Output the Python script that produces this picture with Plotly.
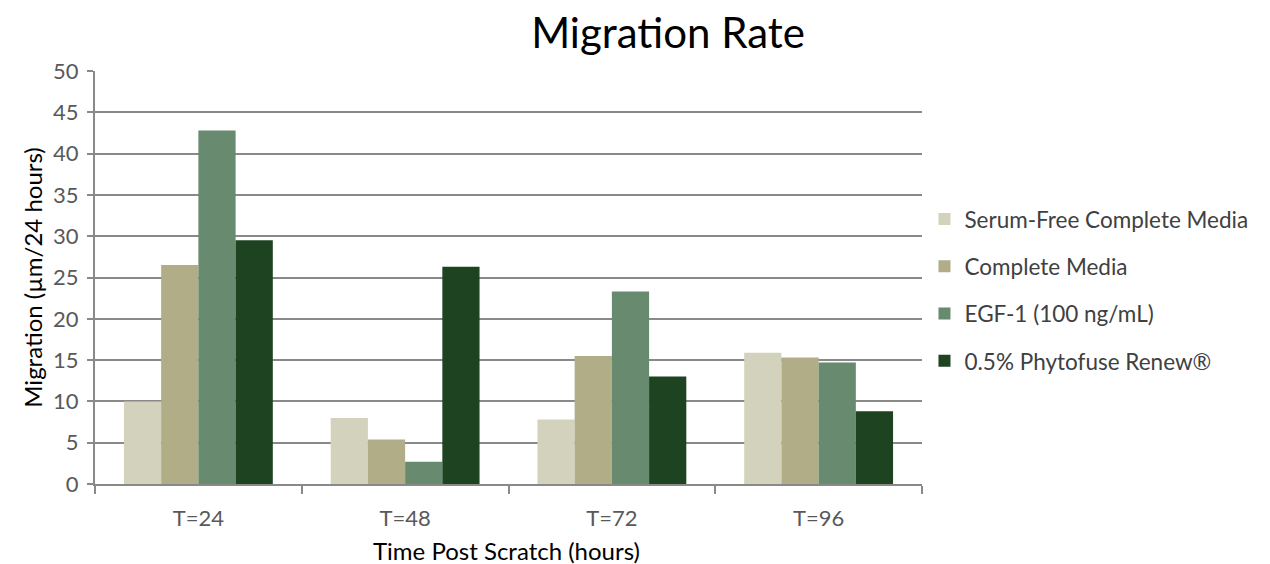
import plotly.graph_objects as go

categories = ["T=24", "T=48", "T=72", "T=96"]
series_names = ["Serum-Free Complete Media", "Complete Media", "EGF-1 (100 ng/mL)", "0.5% Phytofuse Renew®"]
serum_free = [10.0, 8.0, 7.8, 15.9]
complete_media = [26.5, 5.4, 15.5, 15.3]
egf1 = [42.8, 2.7, 23.3, 14.7]
phytofuse = [29.5, 26.3, 13.0, 8.8]
colors = ["#D3D2BC", "#B0AD87", "#688A6E", "#1E4321"]
x_title = "Time Post Scratch (hours)"
y_title = "Migration (µm/24 hours)"

fig = go.Figure()
for i, (name, vals) in enumerate(zip(series_names, [serum_free, complete_media, egf1, phytofuse])):
    fig.add_trace(go.Bar(x=categories, y=vals, name=name, marker_color=colors[i],
                         marker_line_width=0, legendgroup=str(i)))

font_family = "Lato, 'Open Sans', sans-serif"
fig.update_layout(
    width=1270, height=564,
    paper_bgcolor="white", plot_bgcolor="white",
    margin=dict(l=95, r=348, t=71, b=80, autoexpand=False),
    barmode="group", bargap=0.28, bargroupgap=0,
    title=dict(text="Migration Rate", x=0.526, xanchor="center", y=0.9415, yanchor="middle",
               font=dict(family=font_family, size=42, color="black")),
    font=dict(family=font_family, size=22, color="#595959"),
    legend=dict(x=1.003, xanchor="left", y=0.47, yanchor="middle",
                font=dict(size=22.5, color="#404040"), tracegroupgap=15,
                itemwidth=30, traceorder="grouped"),
    xaxis=dict(showline=True, linecolor="#898989", linewidth=2, ticks="outside",
               tickson="boundaries", ticklen=8, tickcolor="#898989", tickwidth=2,
               tickfont=dict(size=22, color="#595959"), ticklabelstandoff=14),
    yaxis=dict(range=[0, 50], dtick=5, showgrid=True, gridcolor="#898989", gridwidth=2,
               showline=True, linecolor="#898989", linewidth=2, ticks="outside", ticklen=6,
               tickcolor="#898989", tickwidth=2, zeroline=False,
               tickfont=dict(size=22, color="#595959"), ticklabelstandoff=4,
               title=dict(text=y_title, font=dict(size=24, color="black"), standoff=4)),
    annotations=[dict(text=x_title, xref="paper", yref="paper", x=0.497, y=-0.16,
                      xanchor="center", yanchor="middle", showarrow=False,
                      font=dict(size=24, color="black"))],
)
fig.write_html("out.html", config={"displayModeBar": False},
               post_script="document.body.style.margin='0';")
